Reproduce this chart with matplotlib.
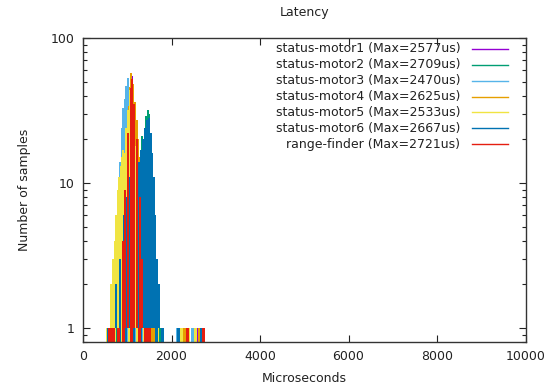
import matplotlib
matplotlib.use("Agg")
import matplotlib.pyplot as plt
from matplotlib.ticker import LogLocator, NullFormatter, FixedLocator

# histogram bins (microseconds)
bins_us = [520, 540, 560, 580, 600, 620, 640, 660, 680, 700,
           720, 740, 760, 780, 800, 820, 840, 860, 880, 900,
           920, 940, 960, 980, 1000, 1020, 1040, 1060, 1080, 1100,
           1120, 1140, 1160, 1180, 1200, 1220, 1240, 1260, 1280, 1300,
           1320, 1340, 1360, 1380, 1400, 1420, 1440, 1460, 1480, 1500,
           1520, 1540, 1560, 1580, 1600, 1620, 1640, 1660, 1680, 1700,
           1720, 1740, 1760]
# each source samples at slightly different microsecond values
shift_us = [0, 3, 6, 9, 12, 15, 18]

motor1 = [0, 0, 1, 0, 0, 1, 0, 0, 1, 0,
          2, 0, 0, 3, 0, 5, 0, 0, 9, 0,
          14, 0, 20, 0, 32, 0, 46, 0, 0, 55,
          0, 40, 0, 28, 0, 16, 0, 9, 0, 5,
          0, 3, 0, 2, 0, 1, 0, 0, 1, 0,
          1, 0, 0, 0, 0, 0, 0, 0, 0, 0,
          0, 0, 0]
motor2 = [0, 0, 0, 1, 0, 0, 0, 0, 0, 1,
          0, 0, 0, 0, 3, 0, 0, 0, 0, 6,
          0, 0, 0, 11, 0, 0, 0, 0, 12, 0,
          0, 0, 9, 0, 0, 0, 0, 14, 0, 0,
          0, 21, 0, 0, 0, 29, 0, 32, 30, 0,
          0, 17, 0, 0, 0, 5, 0, 0, 0, 1,
          0, 1, 0]
motor3 = [0, 1, 0, 0, 1, 0, 1, 0, 2, 0,
          3, 0, 5, 0, 8, 0, 14, 0, 24, 33,
          0, 38, 47, 0, 53, 0, 40, 0, 28, 0,
          18, 0, 12, 0, 7, 0, 4, 0, 2, 0,
          1, 0, 1, 0, 0, 1, 0, 0, 1, 0,
          0, 0, 0, 0, 0, 0, 0, 0, 0, 0,
          0, 0, 0]
motor4 = [0, 0, 1, 0, 0, 1, 0, 0, 2, 0,
          0, 3, 0, 0, 5, 0, 0, 7, 0, 11,
          0, 16, 0, 24, 0, 34, 0, 46, 57, 0,
          48, 0, 36, 0, 27, 0, 20, 0, 15, 0,
          12, 0, 9, 0, 7, 0, 5, 0, 3, 0,
          2, 0, 1, 0, 1, 0, 0, 0, 0, 0,
          0, 0, 0]
motor5 = [0, 1, 0, 0, 1, 2, 0, 3, 2, 0,
          4, 6, 0, 9, 11, 0, 13, 15, 0, 17,
          16, 0, 24, 0, 32, 0, 44, 0, 0, 36,
          0, 26, 0, 18, 0, 13, 0, 10, 0, 8,
          0, 7, 0, 6, 5, 0, 6, 0, 5, 6,
          0, 5, 0, 3, 0, 2, 0, 1, 0, 0,
          0, 0, 0]
motor6 = [0, 0, 1, 0, 0, 0, 1, 0, 0, 0,
          0, 2, 0, 0, 0, 3, 0, 0, 0, 6,
          0, 0, 8, 0, 0, 11, 0, 0, 14, 0,
          0, 9, 0, 0, 11, 0, 0, 14, 0, 17,
          0, 20, 0, 24, 0, 0, 27, 0, 28, 0,
          22, 16, 0, 11, 0, 6, 0, 3, 0, 2,
          0, 0, 1]
rangefinder = [0, 0, 0, 1, 0, 0, 0, 1, 0, 0,
               0, 0, 0, 1, 0, 0, 0, 0, 4, 0,
               0, 9, 0, 0, 22, 0, 0, 45, 52, 0,
               0, 35, 0, 0, 20, 0, 0, 8, 0, 0,
               3, 0, 0, 0, 1, 0, 0, 1, 0, 0,
               0, 0, 0, 0, 0, 0, 0, 0, 0, 0,
               0, 0, 0]

# further single-sample values, up to each max
singles = [[560, 610, 690, 770, 930, 1150, 1310, 1490, 2240, 2577],
           [580, 650, 730, 870, 1010, 1230, 1390, 1600, 1740, 2470, 2709],
           [540, 600, 660, 830, 990, 1170, 1330, 1420, 2130, 2330, 2470],
           [560, 620, 710, 890, 1070, 1260, 1440, 1560, 2290, 2625],
           [540, 630, 700, 850, 1040, 1210, 1370, 1660, 2210, 2380, 2533],
           [560, 640, 810, 960, 1130, 1290, 1470, 1640, 2140, 2667],
           [580, 660, 790, 910, 1090, 1270, 1400, 1480, 2350, 2721]]

names = ["status-motor1 (Max=2577us)", "status-motor2 (Max=2709us)",
         "status-motor3 (Max=2470us)", "status-motor4 (Max=2625us)",
         "status-motor5 (Max=2533us)", "status-motor6 (Max=2667us)",
         "range-finder (Max=2721us)"]
colors = ["#9400d3", "#009e73", "#56b4e9", "#e69f00", "#f0e442", "#0072b2", "#e51e10"]
series = [motor1, motor2, motor3, motor4, motor5, motor6, rangefinder]

ybot = 0.8
fig = plt.figure(figsize=(5.52, 3.92), dpi=100)
ax = fig.add_axes([0.1504, 0.1276, 0.8016, 0.7754])

for counts, extra, c, sh in zip(series, singles, colors, shift_us):
    # impulses rise from y=1; single counts sit below the 1 line
    xs = [b + sh for b, n in zip(bins_us, counts) if n > 1]
    ys = [n for n in counts if n > 1]
    ax.vlines(xs, 1, ys, colors=c, linewidth=1.44, antialiased=False)
    x1 = [b + sh for b, n in zip(bins_us, counts) if n == 1] + extra
    ax.vlines(x1, ybot, 1, colors=c, linewidth=0.9, antialiased=False)

ax.set_yscale("log")
ax.set_ylim(ybot, 100)
ax.set_xlim(0, 10000)
ax.xaxis.set_major_locator(FixedLocator([0, 2000, 4000, 6000, 8000, 10000]))
ax.set_yticks([1, 10, 100])
ax.set_yticklabels(["1", "10", "100"])
ax.yaxis.set_minor_locator(LogLocator(base=10, subs=range(2, 10)))
ax.yaxis.set_minor_formatter(NullFormatter())
ax.tick_params(which="both", direction="in", top=True, right=True,
               labelsize=9, colors="#222222", pad=6)
ax.tick_params(which="major", length=5, width=0.8)
ax.tick_params(which="minor", length=3, width=0.8)
for s in ax.spines.values():
    s.set_color("#333333")
    s.set_linewidth(1.0)

ax.set_title("Latency", fontsize=9, pad=16, color="#222222")
ax.set_xlabel("Microseconds", fontsize=9, color="#222222", labelpad=6)
ax.set_ylabel("Number of samples", fontsize=9, color="#222222", labelpad=14)

# gnuplot-style key, right aligned text with sample line
for i, (nm, c) in enumerate(zip(names, colors)):
    y = 0.965 - i * 0.0525
    ax.text(0.853, y, nm, transform=ax.transAxes, ha="right", va="center",
            fontsize=9, color="#222222")
    ax.plot([0.878, 0.96], [y, y], transform=ax.transAxes, color=c, lw=1.0)

fig.savefig("out.png", dpi=100)
